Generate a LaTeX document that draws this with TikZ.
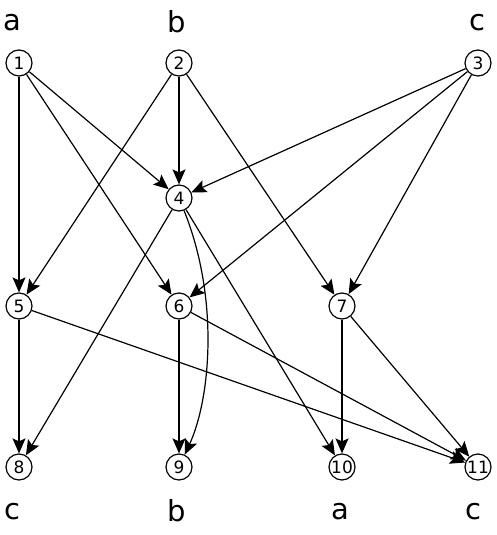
\documentclass[tikz,border=0pt]{standalone}
\usepackage{fontspec}
\setmainfont{DejaVu Sans}
\usetikzlibrary{arrows.meta}
\begin{document}
\begin{tikzpicture}[x=1pt,y=-1pt,
  vtx/.style={circle,draw,line width=1.2pt,minimum size=26pt,inner sep=0pt,font=\fontsize{17}{17}\selectfont},
  lbl/.style={inner sep=0pt,font=\fontsize{29}{29}\selectfont},
  arr/.style={-{Stealth[length=15pt,width=13pt,inset=3pt]},line width=1.2pt}]
\useasboundingbox (0,0) rectangle (497,535);
\node[vtx] (n1) at (19,63) {1};
\node[vtx] (n2) at (179,63) {2};
\node[vtx] (n3) at (478,63) {3};
\node[vtx] (n4) at (179,198) {4};
\node[vtx] (n5) at (19,306) {5};
\node[vtx] (n6) at (179,306) {6};
\node[vtx] (n7) at (342,306) {7};
\node[vtx] (n8) at (19,467) {8};
\node[vtx] (n9) at (179,467) {9};
\node[vtx] (n10) at (342,467) {10};
\node[vtx] (n11) at (478,467) {11};
\node[lbl] (ta) at (12,23) {a};
\node[lbl] (tb) at (177,22) {b};
\node[lbl] (tc) at (477,23) {c};
\node[lbl] (bc1) at (12,512) {c};
\node[lbl] (bb) at (177,511) {b};
\node[lbl] (ba) at (340,512) {a};
\node[lbl] (bc2) at (473,512) {c};
\draw[arr] (n1) -- (n5);
\draw[arr] (n1) -- (n4);
\draw[arr] (n1) -- (n6);
\draw[arr] (n2) -- (n4);
\draw[arr] (n2) -- (n5);
\draw[arr] (n2) -- (n7);
\draw[arr] (n3) -- (n4);
\draw[arr] (n3) -- (n6);
\draw[arr] (n3) -- (n7);
\draw[arr] (n4) -- (n8);
\draw[arr] (n4) .. controls (220,300) and (210,400) .. (n9);
\draw[arr] (n4) -- (n10);
\draw[arr] (n5) -- (n8);
\draw[arr] (n5) -- (n11);
\draw[arr] (n6) -- (n9);
\draw[arr] (n6) -- (n11);
\draw[arr] (n7) -- (n10);
\draw[arr] (n7) -- (n11);
\end{tikzpicture}
\end{document}
